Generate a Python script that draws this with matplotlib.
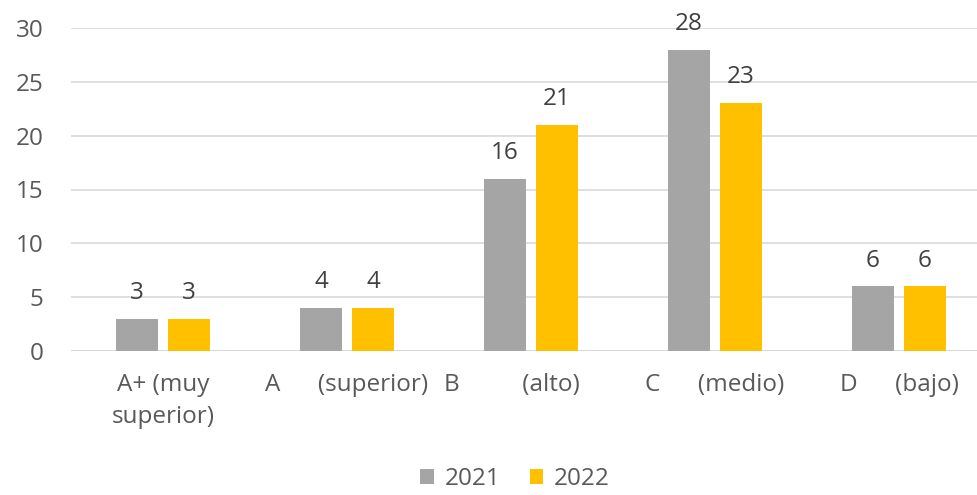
import matplotlib
matplotlib.use("Agg")
import matplotlib.pyplot as plt
import numpy as np

categories = ["A+ (muy\nsuperior)", "A      (superior)", "B          (alto)      ", "C      (medio)", "D      (bajo)"]
series_names = ["2021", "2022"]
values_2021 = [3, 4, 16, 28, 6]
values_2022 = [3, 4, 21, 23, 6]
yticks = [0, 5, 10, 15, 20, 25, 30]

plt.rcParams['font.family'] = ['Open Sans', 'DejaVu Sans']

fig = plt.figure(figsize=(9.78, 4.95), dpi=100)
W, H = 978, 495
left, right, top, bottom = 71, 978, 28, 351
ax = fig.add_axes([left / W, 1 - bottom / H, (right - left) / W, (bottom - top) / H])

x = np.arange(len(categories))
bw = 0.228
off = 0.141
c1, c2 = "#A5A5A5", "#FFC000"
b1 = ax.bar(x - off, values_2021, bw, color=c1, label=series_names[0], zorder=3)
b2 = ax.bar(x + off, values_2022, bw, color=c2, label=series_names[1], zorder=3)

for bars, vals in ((b1, values_2021), (b2, values_2022)):
    for r, v in zip(bars, vals):
        ax.annotate(str(v), (r.get_x() + r.get_width() / 2, v), xytext=(0, 10),
                    textcoords="offset points", ha="center", va="bottom",
                    fontsize=17.5, color="#404040")

ax.set_ylim(0, 30)
ax.set_xlim(-0.5, -0.5 + (right - left) / 184)
ax.set_yticks(yticks)
ax.set_yticklabels([str(t) for t in yticks])
ax.set_xticks(x)
ax.set_xticklabels(categories, linespacing=1.45)
ax.tick_params(axis='both', length=0, labelsize=17.5, labelcolor="#595959")
ax.tick_params(axis='y', pad=20)
ax.tick_params(axis='x', pad=16)
ax.grid(axis='y', color="#D9D9D9", linewidth=1.2, zorder=0)
for s in ax.spines.values():
    s.set_visible(False)
ax.axhline(0, color="#D9D9D9", linewidth=1.2, zorder=2)

leg = fig.legend(handles=[b1, b2], labels=series_names, loc="center",
                 bbox_to_anchor=(515 / W, 1 - 479 / H), ncol=2, frameon=False,
                 fontsize=17.5, handlelength=0.55, handleheight=0.55, handletextpad=0.45,
                 columnspacing=1.2)
for t in leg.get_texts():
    t.set_color("#595959")

fig.savefig("out.png", dpi=100)
